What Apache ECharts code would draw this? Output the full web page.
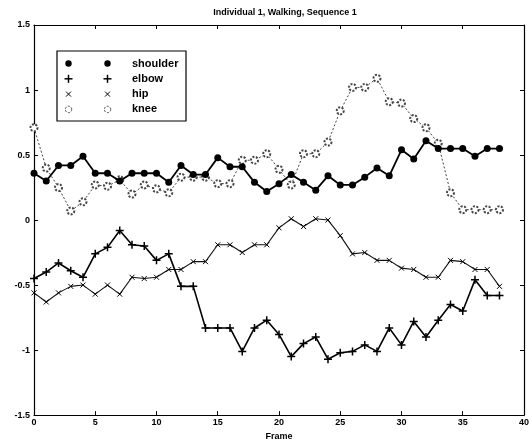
<!DOCTYPE html>
<html><head><meta charset="utf-8">
<script src="https://cdn.jsdelivr.net/npm/echarts@6/dist/echarts.min.js"></script>
<style>html,body{margin:0;padding:0;background:#fff}#c{width:532px;height:446px}</style>
</head><body><div id="c"></div>
<script>
const frames = [0,1,2,3,4,5,6,7,8,9,10,11,12,13,14,15,16,17,18,19,20,21,22,23,24,25,26,27,28,29,30,31,32,33,34,35,36,37,38];
const shoulder = [0.36,0.30,0.42,0.42,0.49,0.36,0.36,0.30,0.36,0.36,0.36,0.29,0.42,0.35,0.35,0.48,0.41,0.41,0.29,0.22,0.28,0.35,0.29,0.23,0.34,0.27,0.27,0.33,0.40,0.34,0.54,0.47,0.61,0.55,0.55,0.55,0.49,0.55,0.55];
const elbow = [-0.45,-0.40,-0.33,-0.39,-0.44,-0.26,-0.21,-0.08,-0.19,-0.20,-0.31,-0.26,-0.51,-0.51,-0.83,-0.83,-0.83,-1.01,-0.83,-0.77,-0.88,-1.05,-0.95,-0.90,-1.07,-1.02,-1.01,-0.96,-1.01,-0.83,-0.96,-0.78,-0.90,-0.77,-0.65,-0.70,-0.46,-0.58,-0.58];
const hip = [-0.56,-0.63,-0.56,-0.51,-0.50,-0.57,-0.50,-0.57,-0.44,-0.45,-0.44,-0.38,-0.38,-0.32,-0.32,-0.19,-0.19,-0.25,-0.19,-0.19,-0.06,0.01,-0.05,0.01,0.00,-0.12,-0.26,-0.25,-0.31,-0.31,-0.37,-0.38,-0.44,-0.44,-0.31,-0.32,-0.38,-0.38,-0.51];
const knee = [0.71,0.40,0.25,0.07,0.14,0.27,0.26,0.31,0.20,0.27,0.24,0.21,0.33,0.33,0.33,0.28,0.28,0.46,0.46,0.51,0.39,0.27,0.51,0.51,0.60,0.84,1.02,1.02,1.09,0.91,0.90,0.78,0.71,0.59,0.21,0.08,0.08,0.08,0.08];
const seriesNames = ['shoulder','elbow','hip','knee'];
const titleText = 'Individual 1, Walking, Sequence 1';
const xLabel = 'Frame';

const FONT = '"Liberation Sans", Arial, sans-serif';
const PLUS = 'path://M0,-1L0,1M-1,0L1,0';
const CROSS = 'path://M-1,-1L1,1M-1,1L1,-1';

function pairs(vals){ return frames.map((f,i)=>[f, vals[i]]); }

const styles = [
  {symbol:'circle', symbolSize:7, itemStyle:{color:'#000'}, lineStyle:{color:'#000', width:1.8, type:'solid'}},
  {symbol:PLUS, symbolSize:8, itemStyle:{color:'#000', borderColor:'#000', borderWidth:1.5}, lineStyle:{color:'#000', width:1.6, type:'solid'}},
  {symbol:CROSS, symbolSize:5, itemStyle:{color:'#000', borderColor:'#000', borderWidth:1}, lineStyle:{color:'#111', width:1.1, type:'solid'}},
  {symbol:'emptyCircle', symbolSize:7, itemStyle:{color:'#444', borderColor:'#444', borderWidth:1, borderType:[2,1.5]}, lineStyle:{color:'#444', width:1, type:[2,2]}}
];
const dataSets = [shoulder, elbow, hip, knee];

const axisCommon = {
  axisLine:{show:true, onZero:false, lineStyle:{color:'#000', width:1.2}},
  axisTick:{show:true, inside:true, length:4, lineStyle:{color:'#000', width:1}},
  splitLine:{show:false}
};

const chart = echarts.init(document.getElementById('c'), null, {renderer:'canvas'});

// legend graphic
const lgX = 57, lgY = 51, lgW = 129, lgH = 70, rowH = 15.3;
const legendEls = [{type:'rect', shape:{x:lgX, y:lgY, width:lgW, height:lgH}, style:{fill:'#fff', stroke:'#000', lineWidth:1.2}}];
seriesNames.forEach((n,i)=>{
  const cy = lgY + 12.5 + i*rowH;
  [68.5, 107.5].forEach(cx=>{
    if(i===0) legendEls.push({type:'circle', shape:{cx:cx, cy:cy, r:3.2}, style:{fill:'#000'}});
    if(i===1) legendEls.push({type:'polyline', shape:{points:[[cx-4,cy],[cx+4,cy]]}, style:{stroke:'#000', lineWidth:1.5}},
                             {type:'polyline', shape:{points:[[cx,cy-4],[cx,cy+4]]}, style:{stroke:'#000', lineWidth:1.5}});
    if(i===2) legendEls.push({type:'polyline', shape:{points:[[cx-2.5,cy-2.5],[cx+2.5,cy+2.5]]}, style:{stroke:'#000', lineWidth:1}},
                             {type:'polyline', shape:{points:[[cx-2.5,cy+2.5],[cx+2.5,cy-2.5]]}, style:{stroke:'#000', lineWidth:1}});
    if(i===3) legendEls.push({type:'circle', shape:{cx:cx, cy:cy, r:3.2}, style:{fill:'#fff', stroke:'#444', lineWidth:1, lineDash:[2,1.5]}});
  });
  legendEls.push({type:'text', x:132, y:cy, style:{text:n, font:'bold 11px '+FONT, fill:'#000', verticalAlign:'middle', textAlign:'left'}});
});

chart.setOption({
  animation:false,
  backgroundColor:'#fff',
  title:{text:titleText, left:280, textAlign:'center', top:3, textStyle:{fontFamily:FONT, fontSize:9, fontWeight:'bold', color:'#000'}},
  grid:{left:34, right:7, top:25, bottom:30},
  xAxis:[
    Object.assign({type:'value', min:0, max:40, interval:5, position:'bottom',
      name:xLabel, nameLocation:'middle', nameGap:15,
      nameTextStyle:{fontFamily:FONT, fontSize:9, fontWeight:'bold', color:'#000'},
      axisLabel:{fontFamily:FONT, fontSize:9, fontWeight:'bold', color:'#000', margin:3}}, axisCommon),
    Object.assign({type:'value', min:0, max:40, interval:5, position:'top', axisLabel:{show:false}}, axisCommon)
  ],
  yAxis:[
    Object.assign({type:'value', min:-1.5, max:1.5, interval:0.5, position:'left',
      axisLabel:{fontFamily:FONT, fontSize:9, fontWeight:'bold', color:'#000', margin:4}}, axisCommon),
    Object.assign({type:'value', min:-1.5, max:1.5, interval:0.5, position:'right', axisLabel:{show:false}}, axisCommon)
  ],
  series: seriesNames.map((n,i)=>Object.assign({name:n, type:'line', data:pairs(dataSets[i]), xAxisIndex:0, yAxisIndex:0, showAllSymbol:true, z: 10-i}, styles[i])),
  graphic: legendEls
});
</script></body></html>
